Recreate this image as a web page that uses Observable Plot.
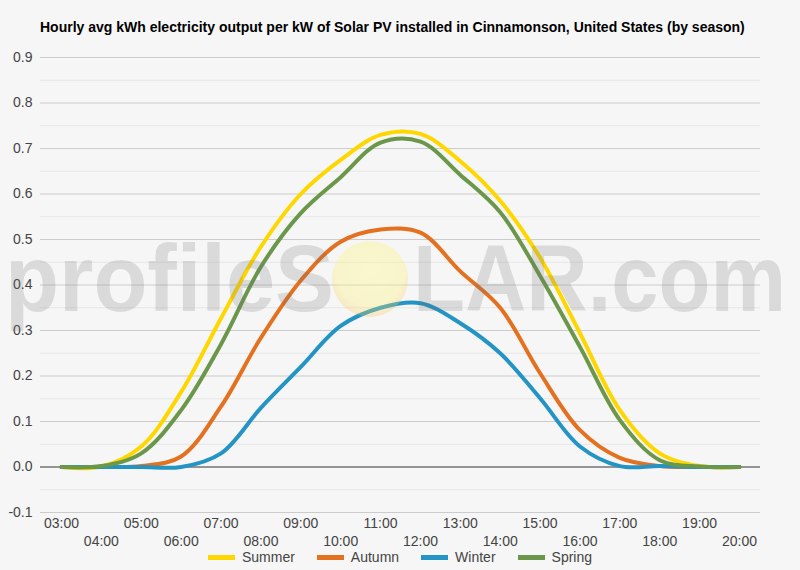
<!DOCTYPE html>
<html><head><meta charset="utf-8">
<script src="https://cdn.jsdelivr.net/npm/d3@7"></script>
<script src="https://cdn.jsdelivr.net/npm/@observablehq/plot@0.6"></script>
<style>
body{margin:0;background:#f6f6f6;}
#wrap{position:relative;width:800px;height:570px;background:#f6f6f6;font-family:Arial,"Liberation Sans",sans-serif;overflow:hidden}
#title{position:absolute;left:40px;top:19px;font-size:14px;font-weight:bold;color:#000;white-space:nowrap}
#chart{position:absolute;left:0;top:0}
#wm{position:absolute;left:0;top:0;pointer-events:none}
#legend{position:absolute;top:549px;left:0;width:800px;display:flex;justify-content:center;gap:22px;font-size:14px;color:#444;line-height:16px}
.item{display:flex;align-items:center}
.sw{width:27px;height:5px;margin-right:7px}
</style></head>
<body>
<div id="wrap">
  <div id="title">Hourly avg kWh electricity output per kW of Solar PV installed in Cinnamonson, United States (by season)</div>
  <div id="chart"></div>
  <svg id="wm" width="800" height="570">
    <defs>
      <radialGradient id="sun" cx="50%" cy="40%" r="60%">
        <stop offset="0%" stop-color="rgb(255,250,120)" stop-opacity="0.32"/>
        <stop offset="75%" stop-color="rgb(255,240,110)" stop-opacity="0.32"/>
        <stop offset="100%" stop-color="rgb(245,190,90)" stop-opacity="0.3"/>
      </radialGradient>
    </defs>
  </svg>
  <div id="legend"></div>
</div>
<script>
const hours = [3,4,5,6,7,8,9,10,11,12,13,14,15,16,17,18,19,20];
const seasons = ["Summer","Autumn","Winter","Spring"];
const colors = ["#ffd700","#e3711f","#2394c4","#6b974a"];
const summer = [0, 0.001, 0.045, 0.165, 0.327, 0.484, 0.600, 0.675, 0.730, 0.732, 0.672, 0.585, 0.460, 0.294, 0.125, 0.030, 0.002, 0];
const autumn = [0, 0, 0.002, 0.023, 0.133, 0.284, 0.410, 0.495, 0.522, 0.515, 0.430, 0.350, 0.206, 0.081, 0.020, 0.002, 0, 0];
const winter = [0, 0, 0, 0.000, 0.030, 0.130, 0.220, 0.310, 0.350, 0.360, 0.316, 0.250, 0.151, 0.045, 0.002, 0.002, 0, 0];
const spring = [0, 0.002, 0.030, 0.125, 0.270, 0.440, 0.558, 0.637, 0.713, 0.715, 0.642, 0.560, 0.420, 0.264, 0.103, 0.015, 0.001, 0];
const yTicks = [-0.1,0,0.1,0.2,0.3,0.4,0.5,0.6,0.7,0.8,0.9];
const yMinor = [-0.05,0.05,0.15,0.25,0.35,0.45,0.55,0.65,0.75,0.85];
const oddHours = [3,5,7,9,11,13,15,17,19];
const evenHours = [4,6,8,10,12,14,16,18,20];
const hourLabel = h => String(h).padStart(2,"0") + ":00";

const series = [summer, autumn, winter, spring];
const rows = [];
seasons.forEach((s,i) => hours.forEach((h,j) => rows.push({season:s, hour:h, value:series[i][j]})));

const chart = Plot.plot({
  width:800, height:550,
  marginTop:57, marginBottom:38, marginLeft:40, marginRight:40,
  insetLeft:21, insetRight:21,
  style:{background:"transparent", fontFamily:"Arial, 'Liberation Sans', sans-serif", fontSize:"14px", color:"#444"},
  x:{domain:[3,20]},
  y:{domain:[-0.1,0.9]},
  color:{domain:seasons, range:colors},
  marks:[
    Plot.ruleY(yMinor,{stroke:"#e6e6e6", strokeWidth:1}),
    Plot.ruleY(yTicks.filter(v => v !== 0),{stroke:"#cccccc", strokeWidth:1}),
    Plot.ruleY([0],{stroke:"#333", strokeWidth:1}),
    Plot.axisY({ticks:yTicks, tickFormat:v => v.toFixed(1), tickSize:0, tickPadding:8, fontSize:14, fill:"#444", label:null}),
    Plot.axisX({ticks:oddHours, tickFormat:hourLabel, tickSize:0, tickPadding:6, fontSize:14, fill:"#444", label:null}),
    Plot.axisX({ticks:evenHours, tickFormat:hourLabel, tickSize:0, tickPadding:24, fontSize:14, fill:"#444", label:null}),
    Plot.lineY(rows,{x:"hour", y:"value", stroke:"season", z:"season", strokeWidth:4, curve:"catmull-rom"})
  ]
});
document.getElementById("chart").appendChild(chart);

// watermark overlay
const wm = d3.select("#wm");
wm.append("text").attr("x",5).attr("y",311).attr("font-size",95).attr("font-weight","bold")
  .attr("font-family","Arial, 'Liberation Sans', sans-serif")
  .attr("fill","rgba(110,110,110,0.2)").attr("textLength",329).attr("lengthAdjust","spacingAndGlyphs").text("profileS");
wm.append("circle").attr("cx",370).attr("cy",279).attr("r",38).attr("fill","url(#sun)");
wm.append("text").attr("x",413).attr("y",311).attr("font-size",95).attr("font-weight","bold")
  .attr("font-family","Arial, 'Liberation Sans', sans-serif")
  .attr("fill","rgba(110,110,110,0.2)").attr("textLength",373).attr("lengthAdjust","spacingAndGlyphs").text("LAR.com");

// legend
const lg = d3.select("#legend");
seasons.forEach((s,i) => {
  const it = lg.append("div").attr("class","item");
  it.append("div").attr("class","sw").style("background", colors[i]);
  it.append("span").text(s);
});
</script>
</body></html>
